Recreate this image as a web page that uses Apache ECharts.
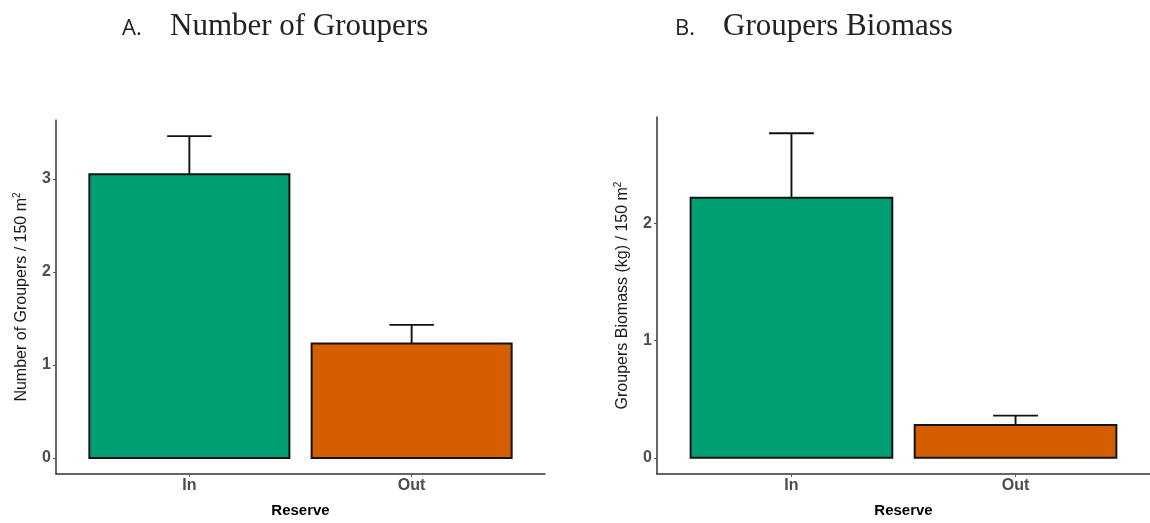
<!DOCTYPE html>
<html>
<head>
<meta charset="utf-8">
<title>Groupers inside and outside the reserve</title>
<script src="https://cdn.jsdelivr.net/npm/echarts@6/dist/echarts.min.js"></script>
<style>
  html, body { margin: 0; padding: 0; background: #ffffff; }
  #chart { width: 1150px; height: 523px; }
</style>
</head>
<body>
<div id="chart"></div>
<script>
// Reserve groups on the x axis
const categories = ['In', 'Out'];

// Panel A: number of groupers per 150 m² (mean and standard error)
const groupersMean = [3.05, 1.23];
const groupersSE = [0.41, 0.20];

// Panel B: groupers biomass (kg) per 150 m² (mean and standard error)
const biomassMean = [2.22, 0.28];
const biomassSE = [0.55, 0.08];

// Tick labels on the y axes
const yTicksA = [0, 1, 2, 3];
const yTicksB = [0, 1, 2];

const barColors = ['#009E73', '#D55E00'];

// Positions 1..n on a numeric x axis, padded by 0.6 on each side
const xPos = categories.map((c, i) => i + 1);

function yRange(mean, se) {
  const top = Math.max(...mean.map((m, i) => m + se[i]));
  const pad = top * 0.05;
  return { min: -pad, max: top + pad };
}

function barRender(params, api) {
  const x = api.value(0);
  const y = api.value(1);
  const tl = api.coord([x - 0.45, y]);
  const br = api.coord([x + 0.45, 0]);
  return {
    type: 'rect',
    shape: { x: tl[0], y: tl[1], width: br[0] - tl[0], height: br[1] - tl[1] },
    style: { fill: barColors[params.dataIndex], stroke: '#151515', lineWidth: 2 }
  };
}

function errRender(params, api) {
  const x = api.value(0);
  const m = api.value(1);
  const hi = api.value(2);
  const base = api.coord([x, m]);
  const top = api.coord([x, hi]);
  const capL = api.coord([x - 0.1, hi]);
  const capR = api.coord([x + 0.1, hi]);
  const st = { stroke: '#111', lineWidth: 1.9 };
  return {
    type: 'group',
    children: [
      { type: 'line', shape: { x1: base[0], y1: base[1], x2: top[0], y2: top[1] }, style: st },
      { type: 'line', shape: { x1: capL[0], y1: capL[1], x2: capR[0], y2: capR[1] }, style: st }
    ]
  };
}

function xAxisFor(gridIndex) {
  return {
    type: 'value',
    gridIndex: gridIndex,
    min: 0.4,
    max: 2.6,
    position: 'bottom',
    axisLine: { show: true, onZero: false, lineStyle: { color: '#333', width: 1.5 } },
    axisTick: { show: true, customValues: xPos, length: 3, lineStyle: { color: '#555', width: 1 } },
    axisLabel: {
      customValues: xPos,
      formatter: v => categories[Math.round(v) - 1],
      color: '#4d4d4d', fontWeight: 'bold', fontSize: 16,
      fontFamily: 'Liberation Sans', margin: 4
    },
    splitLine: { show: false },
    name: 'Reserve',
    nameLocation: 'middle',
    nameGap: 29,
    nameTextStyle: { color: '#000', fontWeight: 'bold', fontSize: 15, fontFamily: 'Liberation Sans' }
  };
}

function yAxisFor(gridIndex, range, ticks, label, gap) {
  return {
    type: 'value',
    gridIndex: gridIndex,
    min: range.min,
    max: range.max,
    axisLine: { show: true, lineStyle: { color: '#333', width: 1.5 } },
    axisTick: { show: true, customValues: ticks, length: 3, lineStyle: { color: '#555', width: 1 } },
    axisLabel: {
      customValues: ticks,
      formatter: v => String(Math.round(v)),
      color: '#4d4d4d', fontWeight: 'bold', fontSize: 16,
      fontFamily: 'Liberation Sans', margin: 5
    },
    splitLine: { show: false },
    name: '{n|' + label + '}{s|2}',
    nameLocation: 'middle',
    nameRotate: 90,
    nameGap: gap,
    nameTextStyle: {
      rich: {
        n: { color: '#1a1a1a', fontSize: 16, fontFamily: 'Liberation Sans' },
        s: { color: '#1a1a1a', fontSize: 10, fontFamily: 'Liberation Sans', padding: [0, 0, 10, 0] }
      }
    }
  };
}

const rangeA = yRange(groupersMean, groupersSE);
const rangeB = yRange(biomassMean, biomassSE);

const serif = 'Liberation Serif';
const sans = 'Open Sans';
const headSans = { fontFamily: sans, fontSize: 22, fontWeight: 'normal', color: '#222' };
const headSerif = { fontFamily: serif, fontSize: 31, fontWeight: 'normal', color: '#222' };

const option = {
  backgroundColor: '#ffffff',
  animation: false,
  title: [
    { text: 'A.', left: 122, top: 18, padding: 0, textStyle: headSans },
    { text: 'Number of Groupers', left: 170, top: 11, padding: 0, textStyle: headSerif },
    { text: 'B.', left: 675, top: 18, padding: 0, textStyle: headSans },
    { text: 'Groupers Biomass', left: 723, top: 11, padding: 0, textStyle: headSerif }
  ],
  grid: [
    { left: 56, top: 120, width: 489, height: 355 },
    { left: 657, top: 117, width: 495, height: 359 }
  ],
  xAxis: [xAxisFor(0), xAxisFor(1)],
  yAxis: [
    yAxisFor(0, rangeA, yTicksA, 'Number of Groupers / 150 m', 24),
    yAxisFor(1, rangeB, yTicksB, 'Groupers Biomass (kg) / 150 m', 24)
  ],
  series: [
    {
      type: 'custom', xAxisIndex: 0, yAxisIndex: 0,
      renderItem: barRender,
      data: groupersMean.map((m, i) => [xPos[i], m])
    },
    {
      type: 'custom', xAxisIndex: 0, yAxisIndex: 0,
      renderItem: errRender,
      data: groupersMean.map((m, i) => [xPos[i], m, m + groupersSE[i]])
    },
    {
      type: 'custom', xAxisIndex: 1, yAxisIndex: 1,
      renderItem: barRender,
      data: biomassMean.map((m, i) => [xPos[i], m])
    },
    {
      type: 'custom', xAxisIndex: 1, yAxisIndex: 1,
      renderItem: errRender,
      data: biomassMean.map((m, i) => [xPos[i], m, m + biomassSE[i]])
    }
  ]
};

const chart = echarts.init(document.getElementById('chart'), null, { renderer: 'canvas' });
chart.setOption(option);
</script>
</body>
</html>
